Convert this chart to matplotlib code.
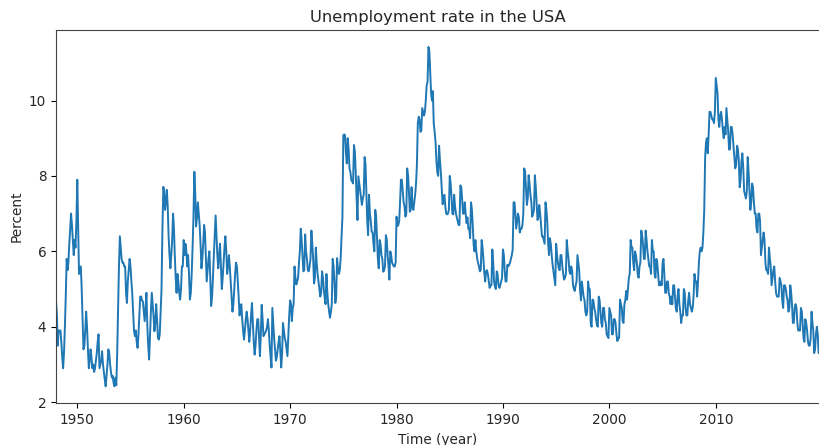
import matplotlib
matplotlib.use("Agg")
import matplotlib.pyplot as plt
import matplotlib.dates as mdates
import pandas as pd

# monthly unemployment rate (not seasonally adjusted), Jan 1948 onwards, one row per year
start_month = "1948-01"
rate = [
    4.7, 4.3, 3.5, 3.9, 3.9, 3.9, 3.6, 3.2, 2.9, 3.3, 4.0, 4.8,        # 1948
    5.8, 5.5, 5.7, 6.2, 6.6, 7.0, 6.7, 6.3, 5.9, 6.3, 6.1, 6.8,        # 1949
    7.9, 6.6, 5.4, 5.5, 5.6, 5.0, 4.2, 3.4, 3.5, 3.9, 4.4, 4.0,        # 1950
    3.4, 2.9, 3.1, 3.4, 3.2, 2.9, 3.0, 2.8, 2.9, 3.1, 3.3, 3.6,        # 1951
    3.8, 2.9, 3.0, 3.1, 3.35, 3.0, 2.8, 2.6, 2.42, 2.7, 3.0, 3.4,      # 1952
    3.3, 3.0, 2.8, 2.65, 2.7, 2.5, 2.42, 2.65, 2.45, 3.3, 4.5, 5.6,    # 1953
    6.4, 6.1, 5.8, 5.7, 5.7, 5.6, 5.6, 4.9, 4.63, 5.2, 5.5, 5.8,       # 1954
    5.6, 5.2, 4.9, 4.4, 3.9, 3.75, 3.9, 3.6, 3.44, 3.8, 4.3, 4.8,      # 1955
    4.8, 4.7, 4.67, 4.4, 4.15, 4.5, 4.9, 4.0, 3.5, 3.13, 3.8, 4.4,     # 1956
    4.9, 4.6, 4.3, 3.88, 4.1, 4.6, 4.2, 3.7, 3.66, 3.8, 4.4, 5.0,      # 1957
    6.6, 7.71, 7.6, 7.1, 7.3, 7.63, 7.2, 6.4, 5.9, 5.55, 5.9, 6.3,     # 1958
    7.0, 6.6, 5.9, 5.3, 4.9, 5.4, 5.2, 4.9, 4.72, 5.0, 5.6, 5.6,       # 1959
    6.3, 5.9, 6.2, 6.0, 5.6, 5.9, 5.4, 4.72, 4.9, 5.4, 6.1, 6.9,       # 1960
    8.11, 7.5, 6.66, 6.9, 7.3, 7.0, 6.7, 6.2, 5.55, 5.8, 6.2, 6.7,     # 1961
    6.5, 5.8, 5.2, 5.5, 5.8, 6.0, 5.3, 4.55, 4.8, 5.3, 5.9, 6.4,       # 1962
    6.95, 6.4, 5.9, 5.55, 5.9, 6.2, 5.6, 5.0, 5.3, 5.7, 6.1, 6.4,      # 1963
    6.0, 5.4, 5.6, 5.9, 5.6, 5.2, 4.8, 4.4, 4.6, 5.0, 5.4, 5.7,        # 1964
    5.6, 5.2, 4.8, 4.3, 4.5, 4.6, 4.2, 3.9, 3.66, 3.9, 4.2, 4.4,       # 1965
    4.2, 3.9, 3.6, 3.9, 4.3, 4.63, 4.1, 3.6, 3.26, 3.5, 3.9, 4.2,      # 1966
    4.2, 3.7, 3.22, 3.8, 4.58, 4.2, 3.75, 3.8, 3.84, 3.9, 4.0, 4.2,    # 1967
    3.9, 3.5, 3.2, 2.92, 4.5, 4.1, 3.7, 3.4, 3.1, 3.2, 3.4, 3.6,       # 1968
    3.75, 3.3, 2.92, 3.3, 4.1, 3.9, 3.7, 3.6, 3.4, 3.22, 3.8, 4.3,     # 1969
    4.7, 4.6, 4.15, 4.5, 4.6, 5.6, 5.3, 5.12, 5.2, 5.3, 5.7, 6.0,      # 1970
    6.6, 6.3, 5.9, 5.47, 5.5, 6.45, 6.0, 5.8, 5.5, 5.47, 5.6, 5.8,     # 1971
    6.55, 6.2, 5.8, 5.15, 5.3, 6.1, 5.7, 5.4, 5.2, 5.0, 4.8, 4.9,      # 1972
    5.47, 5.3, 5.0, 4.77, 4.6, 5.4, 4.9, 4.6, 4.4, 4.24, 4.4, 4.6,     # 1973
    5.8, 5.6, 5.2, 4.63, 4.8, 5.82, 5.55, 5.4, 5.5, 5.8, 6.4, 6.9,     # 1974
    9.08, 9.1, 9.08, 8.6, 8.33, 9.0, 8.7, 8.2, 8.1, 7.9, 7.85, 7.8,    # 1975
    8.82, 8.65, 8.1, 7.4, 6.83, 7.99, 7.8, 7.6, 7.4, 7.23, 7.4, 7.5,   # 1976
    8.5, 8.3, 7.6, 6.8, 6.43, 7.5, 7.0, 6.8, 6.52, 6.5, 6.2, 6.0,      # 1977
    7.1, 6.9, 6.4, 5.8, 5.55, 6.3, 6.2, 5.9, 5.8, 5.46, 5.5, 5.6,      # 1978
    6.43, 6.3, 5.9, 5.6, 5.25, 6.0, 5.9, 5.7, 5.65, 5.6, 5.6, 5.7,     # 1979
    6.92, 6.67, 6.7, 6.8, 7.3, 7.9, 7.9, 7.6, 7.3, 7.2, 6.92, 7.0,     # 1980
    8.2, 8.0, 7.6, 7.05, 7.1, 7.7, 7.2, 7.1, 7.3, 7.5, 7.8, 8.3,       # 1981
    9.4, 9.57, 9.5, 9.17, 9.2, 9.8, 9.7, 9.6, 9.7, 10.0, 10.4, 10.5,   # 1982
    11.42, 11.3, 10.8, 10.2, 10.0, 10.25, 9.4, 9.17, 8.9, 8.4, 8.1, 8.0,  # 1983
    8.8, 8.4, 8.1, 7.65, 7.25, 7.4, 7.5, 7.2, 7.0, 6.98, 7.0, 7.1,     # 1984
    8.0, 7.8, 7.46, 7.0, 6.98, 7.5, 7.2, 7.0, 6.9, 6.8, 6.7, 6.7,      # 1985
    7.75, 7.7, 7.4, 7.0, 7.0, 7.3, 7.0, 6.75, 6.9, 6.6, 6.6, 6.35,     # 1986
    7.3, 7.1, 6.7, 6.17, 6.0, 6.3, 6.0, 5.8, 5.69, 5.6, 5.47, 5.5,     # 1987
    6.3, 6.1, 5.8, 5.43, 5.2, 5.47, 5.5, 5.4, 5.2, 5.03, 5.1, 5.1,     # 1988
    6.05, 5.7, 5.2, 5.07, 5.0, 5.47, 5.4, 5.1, 5.03, 5.1, 5.2, 5.3,    # 1989
    6.05, 5.9, 5.5, 5.2, 5.2, 5.64, 5.6, 5.64, 5.7, 5.8, 5.9, 6.05,    # 1990
    7.3, 7.3, 7.0, 6.6, 6.8, 7.0, 6.9, 6.5, 6.6, 6.6, 6.7, 7.0,        # 1991
    8.2, 8.1, 7.7, 7.23, 7.4, 8.02, 7.8, 7.5, 7.3, 6.92, 7.0, 7.1,     # 1992
    8.02, 7.7, 7.3, 6.83, 6.9, 7.23, 7.0, 6.7, 6.4, 6.4, 6.3, 6.2,     # 1993
    7.3, 7.1, 6.8, 6.2, 5.9, 6.35, 6.2, 5.9, 5.65, 5.47, 5.3, 5.1,     # 1994
    6.2, 5.9, 5.7, 5.55, 5.5, 5.9, 5.9, 5.6, 5.4, 5.25, 5.3, 5.4,      # 1995
    6.3, 6.0, 5.8, 5.47, 5.4, 5.6, 5.5, 5.1, 5.0, 4.95, 5.1, 5.2,      # 1996
    5.9, 5.7, 5.5, 4.98, 4.7, 5.2, 5.0, 4.8, 4.7, 4.4, 4.3, 4.4,       # 1997
    5.2, 5.0, 5.0, 4.1, 4.0, 4.72, 4.7, 4.5, 4.4, 4.2, 4.05, 4.0,      # 1998
    4.8, 4.7, 4.4, 4.1, 4.0, 4.5, 4.5, 4.2, 4.1, 3.8, 3.75, 3.7,       # 1999
    4.5, 4.4, 4.3, 3.8, 3.8, 4.2, 4.2, 4.1, 3.8, 3.62, 3.7, 3.7,       # 2000
    4.72, 4.6, 4.5, 4.15, 4.1, 4.6, 4.7, 4.95, 4.72, 5.0, 5.3, 5.4,    # 2001
    6.3, 6.1, 6.1, 5.7, 5.5, 6.0, 5.9, 5.7, 5.4, 5.3, 5.6, 5.7,        # 2002
    6.55, 6.4, 6.2, 5.8, 5.8, 6.55, 6.3, 6.0, 5.8, 5.6, 5.6, 5.4,      # 2003
    6.3, 6.0, 6.0, 5.4, 5.3, 5.8, 5.7, 5.4, 5.1, 5.1, 5.2, 5.1,        # 2004
    5.7, 5.8, 5.4, 4.9, 4.9, 5.2, 5.2, 4.9, 4.8, 4.6, 4.8, 4.6,        # 2005
    5.1, 5.1, 4.8, 4.5, 4.4, 4.8, 5.0, 4.6, 4.4, 4.1, 4.3, 4.3,        # 2006
    5.0, 4.9, 4.5, 4.3, 4.3, 4.7, 4.9, 4.6, 4.5, 4.4, 4.5, 4.8,        # 2007
    5.4, 5.2, 5.2, 4.8, 5.2, 5.7, 6.0, 6.1, 6.0, 6.1, 6.5, 7.1,        # 2008
    8.5, 8.9, 9.0, 8.6, 9.1, 9.7, 9.7, 9.6, 9.5, 9.5, 9.4, 9.7,        # 2009
    10.6, 10.4, 10.2, 9.5, 9.3, 9.6, 9.7, 9.5, 9.2, 9.0, 9.3, 9.1,     # 2010
    9.8, 9.5, 9.2, 8.7, 8.7, 9.3, 9.3, 9.1, 8.8, 8.5, 8.2, 8.3,        # 2011
    8.8, 8.7, 8.4, 7.7, 7.9, 8.4, 8.6, 8.2, 7.6, 7.5, 7.4, 7.6,        # 2012
    8.5, 8.1, 7.6, 7.1, 7.3, 7.8, 7.7, 7.3, 7.0, 7.0, 6.6, 6.5,        # 2013
    7.0, 7.0, 6.8, 5.9, 6.1, 6.3, 6.5, 6.3, 5.7, 5.5, 5.5, 5.4,        # 2014
    6.1, 5.8, 5.6, 5.1, 5.3, 5.5, 5.6, 5.2, 4.9, 4.8, 4.8, 4.8,        # 2015
    5.3, 5.2, 5.1, 4.7, 4.5, 5.1, 5.1, 5.0, 4.8, 4.7, 4.4, 4.5,        # 2016
    5.1, 4.9, 4.6, 4.1, 4.1, 4.5, 4.6, 4.5, 4.1, 3.9, 3.9, 3.9,        # 2017
    4.5, 4.4, 4.1, 3.7, 3.6, 4.2, 4.1, 3.9, 3.6, 3.5, 3.5, 3.7,        # 2018
    4.4, 4.1, 3.9, 3.3, 3.4, 3.8, 4.0, 3.8, 3.3, 3.3,                  # 2019
]

title = "Unemployment rate in the USA"
xlabel = "Time (year)"
ylabel = "Percent"

dates = pd.date_range(start_month, periods=len(rate), freq="MS")
series = pd.Series(rate, index=dates)

plt.rcParams["font.size"] = 9.8
plt.rcParams["text.color"] = "#262626"
plt.rcParams["axes.labelcolor"] = "#262626"
plt.rcParams["xtick.labelcolor"] = "#262626"
plt.rcParams["ytick.labelcolor"] = "#262626"

fig = plt.figure(figsize=(8.2, 4.45), dpi=100)
ax = fig.add_axes([56 / 820, 41.7 / 445, 763.5 / 820, 373.3 / 445])

ax.plot(series.index, series.values, color="#1f77b4", linewidth=1.4)

ax.set_xlim(series.index[0], series.index[-1])
ax.xaxis.set_major_locator(mdates.YearLocator(10))
ax.xaxis.set_major_formatter(mdates.DateFormatter("%Y"))
ax.set_yticks([2, 4, 6, 8, 10])

for side in ax.spines.values():
    side.set_color("#444444")

ax.set_title(title)
ax.set_xlabel(xlabel)
ax.set_ylabel(ylabel)

fig.savefig("out.png", dpi=100)
